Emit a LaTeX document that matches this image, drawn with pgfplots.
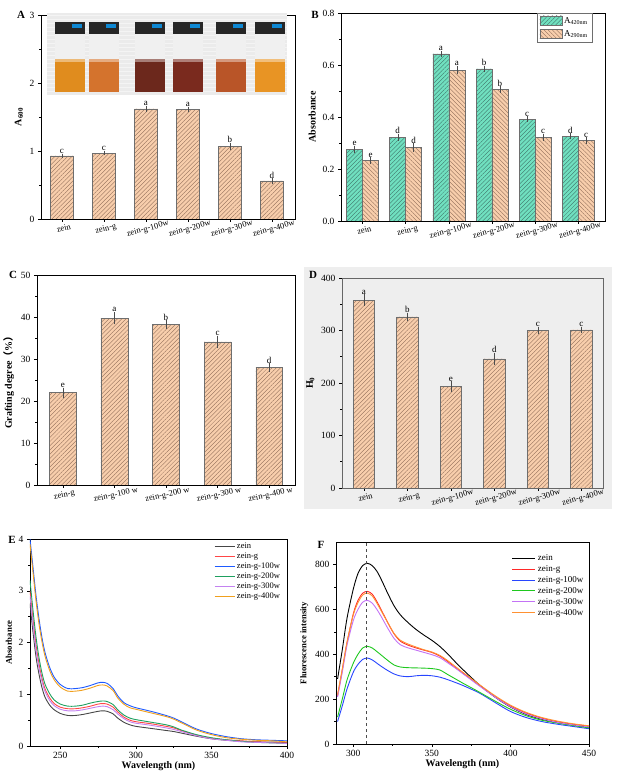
\documentclass[border=0pt]{standalone}
\usepackage{pgfplots}
\pgfplotsset{compat=1.18}
\usepackage{pgfplotstable}
\usepackage{fontspec}
\setmainfont{Liberation Serif}
\newfontfamily\cjk{Noto Sans CJK SC}
\usetikzlibrary{patterns.meta}

\definecolor{peach}{RGB}{248,206,172}
\definecolor{mint}{RGB}{112,224,192}
\definecolor{barline}{RGB}{110,110,110}
\definecolor{hatchP}{RGB}{140,105,85}
\definecolor{hatchM}{RGB}{60,110,100}
\definecolor{panelgray}{RGB}{238,238,238}
\definecolor{liqA}{RGB}{224,140,30}
\definecolor{liqB}{RGB}{212,115,45}
\definecolor{liqC}{RGB}{108,40,28}
\definecolor{liqD}{RGB}{122,42,30}
\definecolor{liqE}{RGB}{185,85,40}
\definecolor{liqF}{RGB}{232,148,36}
\definecolor{cZein}{RGB}{70,70,70}
\definecolor{cG}{RGB}{255,70,70}
\definecolor{cB}{RGB}{30,90,255}
\definecolor{cGr}{RGB}{30,160,95}
\definecolor{cP}{RGB}{195,130,240}
\definecolor{cO}{RGB}{240,160,30}
\definecolor{fK}{RGB}{0,0,0}
\definecolor{fR}{RGB}{255,40,40}
\definecolor{fB}{RGB}{40,70,255}
\definecolor{fG}{RGB}{30,200,30}
\definecolor{fP}{RGB}{195,115,245}
\definecolor{fO}{RGB}{255,145,50}

\pgfplotsset{
  panel/.style={
    scale only axis, tick align=outside, tick pos=left,
    /pgf/number format/assume math mode=true,
    axis line style={line width=0.6pt},
    tick style={line width=0.5pt, black},
    major tick length=3pt, minor tick length=1.8pt,
    yticklabel style={font=\fontsize{9.5}{10}\selectfont},
    xticklabel style={font=\fontsize{9.5}{10}\selectfont},
    ylabel style={font=\bfseries\fontsize{10}{11}\selectfont},
    xlabel style={font=\bfseries\fontsize{10}{11}\selectfont},
  },
  cat/.style={xticklabel style={rotate=15, anchor=north, font=\fontsize{8.5}{9}\selectfont}},
  pbar/.style={ybar, bar width=#1, fill=peach, draw=barline, line width=0.5pt,
    postaction={pattern={Lines[angle=45,distance=3pt,line width=0.35pt]}, pattern color=hatchP}},
  errs/.style={draw=none, no marks, forget plot,
    error bars/y dir=both, error bars/y explicit,
    error bars/error bar style={line width=0.45pt, black!70},
    error bars/error mark options={mark size=1.6pt, line width=0.45pt, black!70}},
  lets/.style={only marks, mark=none, forget plot, nodes near coords, point meta=explicit symbolic,
    nodes near coords style={anchor=south, inner sep=1pt, yshift=0.5pt, font=\fontsize{9}{10}\selectfont}},
  spec/.style={smooth, line width=0.9pt, no marks},
  boxleg/.style={legend image code/.code={\draw[##1] (0pt,-4pt) rectangle (22pt,5pt);}},
  lineleg/.style={legend image code/.code={\draw[##1] (0pt,0pt) -- (#1,0pt);}},
}

\pgfplotstableread{
x y e t l
0 0.93 0.008 0.938 c
1 0.97 0.006 0.976 c
2 1.62 0.020 1.640 a
3 1.61 0.018 1.628 a
4 1.07 0.030 1.100 b
5 0.56 0.015 0.575 d
}\tabA

\pgfplotstableread{
x xs y e t l
0 -0.185 0.275 0.008 0.283 e
1 0.815 0.322 0.008 0.330 d
2 1.815 0.643 0.005 0.648 a
3 2.815 0.585 0.006 0.591 b
4 3.815 0.392 0.004 0.396 c
5 4.815 0.326 0.005 0.331 d
}\tabBa

\pgfplotstableread{
x xs y e t l
0 0.185 0.232 0.007 0.239 e
1 1.185 0.283 0.010 0.293 d
2 2.185 0.580 0.010 0.590 a
3 3.185 0.506 0.006 0.512 b
4 4.185 0.322 0.007 0.329 c
5 5.185 0.309 0.006 0.315 c
}\tabBb

\pgfplotstableread{
x y e t l
0 22.0 0.8 22.8 e
1 39.7 1.1 40.8 a
2 38.2 0.6 38.8 b
3 34.1 1.0 35.1 c
4 28.0 0.6 28.6 d
}\tabC

\pgfplotstableread{
x y e t l
0 358 8 366 a
1 326 4 330 b
2 193 7 200 e
3 246 8 254 d
4 300 4 304 c
5 301 3 304 c
}\tabD

\pgfplotstableread{
wl zein g g100 g200 g300 g400
230 2.75 3.00 4.00 3.20 2.90 3.90
232 2.20 2.45 3.45 2.62 2.35 3.35
234 1.72 1.95 2.90 2.10 1.85 2.80
236 1.38 1.58 2.45 1.70 1.50 2.35
238 1.12 1.30 2.08 1.40 1.24 2.00
240 0.94 1.10 1.80 1.19 1.05 1.73
243 0.79 0.93 1.52 1.01 0.88 1.46
246 0.70 0.82 1.33 0.89 0.78 1.28
250 0.63 0.75 1.19 0.81 0.71 1.14
255 0.59 0.72 1.11 0.77 0.68 1.06
260 0.59 0.72 1.11 0.77 0.68 1.06
265 0.61 0.74 1.13 0.79 0.70 1.08
270 0.64 0.77 1.17 0.83 0.73 1.12
275 0.67 0.81 1.22 0.86 0.76 1.17
278 0.68 0.82 1.23 0.87 0.77 1.18
281 0.67 0.81 1.21 0.86 0.76 1.16
285 0.62 0.75 1.11 0.80 0.70 1.07
288 0.54 0.66 0.97 0.70 0.62 0.93
292 0.46 0.56 0.84 0.60 0.53 0.81
296 0.41 0.50 0.78 0.54 0.47 0.74
300 0.38 0.47 0.74 0.51 0.44 0.71
310 0.34 0.43 0.67 0.46 0.40 0.64
320 0.30 0.38 0.59 0.41 0.35 0.57
325 0.28 0.35 0.54 0.37 0.32 0.52
330 0.25 0.30 0.47 0.31 0.28 0.45
340 0.19 0.21 0.33 0.22 0.20 0.31
350 0.14 0.15 0.24 0.16 0.14 0.22
360 0.11 0.12 0.18 0.12 0.11 0.16
370 0.09 0.10 0.14 0.09 0.08 0.13
380 0.08 0.08 0.12 0.07 0.07 0.11
390 0.075 0.07 0.11 0.06 0.06 0.10
400 0.07 0.06 0.10 0.05 0.05 0.08
}\tabE

\pgfplotstableread{
wl zein g g100 g200 g300 g400
290 290 215 100 120 210 220
293 420 330 170 200 320 335
296 560 450 245 285 440 455
300 690 580 320 360 550 575
303 760 640 355 400 600 630
306 795 672 377 428 632 664
309 805 680 383 435 640 672
312 795 668 375 428 628 660
315 770 635 360 412 600 628
318 730 595 345 395 565 590
322 670 540 327 372 515 540
326 615 490 312 352 470 492
330 575 458 303 343 442 462
335 540 440 300 340 428 445
340 510 428 304 339 418 432
345 485 418 306 338 408 420
350 462 408 304 336 398 410
355 435 392 298 330 385 395
360 402 368 287 310 362 372
365 365 340 274 290 338 345
370 330 315 260 270 312 318
380 265 262 228 232 260 266
390 210 212 186 192 210 216
400 165 170 145 155 166 173
410 132 138 118 126 134 141
420 110 115 100 106 112 118
430 95 99 88 93 96 102
440 84 88 78 82 85 90
450 75 80 68 72 76 81
}\tabF

\begin{document}
\begin{tikzpicture}
\path[use as bounding box] (0,0) rectangle (619pt,780pt);
\fill[panelgray] (304pt,271pt) rectangle (612pt,513pt);

% ---------------- A
\begin{axis}[panel, cat, at={(41pt,561pt)}, anchor=south west, width=254pt, height=204pt,
  xmin=-0.5, xmax=5.55, ymin=0, ymax=3, ytick={0,1,2,3}, minor y tick num=1,
  xtick={0,1,2,3,4,5},
  xticklabels={zein,zein-g,zein-g-100w,zein-g-200w,zein-g-300w,zein-g-400w},
  ylabel={A\textsubscript{600}}]
\addplot[pbar=0.55] table[x=x,y=y] {\tabA};
\addplot[errs] table[x=x,y=y,y error=e] {\tabA};
\addplot[lets] table[x=x,y=t,meta=l] {\tabA};
\end{axis}
\begin{scope}[x=1pt,y=1pt]
\fill[gray!16] (47,685) rectangle (287,767);
\foreach \yy in {689,693,...,765} {\draw[white!70!gray!30, line width=0.6pt] (47,\yy) -- (287,\yy);}
\foreach \cx/\col in {70/liqA,104/liqB,150/liqC,188/liqD,231/liqE,270/liqF} {
  \fill[white!88!gray] ({\cx-15},688) rectangle ({\cx+15},747);
  \fill[\col] ({\cx-15},688) rectangle ({\cx+15},720);
  \fill[\col!60!white] ({\cx-15},718) rectangle ({\cx+15},721);
  \fill[black!85] ({\cx-15},746) rectangle ({\cx+15},758);
  \fill[cyan!70!blue] ({\cx+2},752) rectangle ({\cx+12},756);
}
\end{scope}

% ---------------- B
\begin{axis}[panel, cat, at={(341pt,559pt)}, anchor=south west, width=264pt, height=208pt,
  xmin=-0.5, xmax=5.62, ymin=0, ymax=0.8, ytick={0,0.2,0.4,0.6,0.8}, minor y tick num=1,
  yticklabel style={/pgf/number format/fixed, /pgf/number format/fixed zerofill, /pgf/number format/precision=1},
  xtick={0,1,2,3,4,5},
  xticklabels={zein,zein-g,zein-g-100w,zein-g-200w,zein-g-300w,zein-g-400w},
  ylabel={Absorbance},
  legend style={at={(0.951,1)}, anchor=north east, draw=barline, line width=0.5pt,
    font=\fontsize{9}{10}\selectfont, inner sep=2pt, row sep=2pt},
  legend cell align=left]
\addplot[ybar, bar width=0.37, bar shift=-0.185, fill=mint, draw=barline, line width=0.5pt,
  postaction={pattern={Lines[angle=45,distance=3pt,line width=0.35pt]}, pattern color=hatchM},
  boxleg]
  table[x=x,y=y] {\tabBa};
\addlegendentry{A\textsubscript{420nm}}
\addplot[ybar, bar width=0.37, bar shift=0.185, fill=peach, draw=barline, line width=0.5pt,
  postaction={pattern={Lines[angle=-45,distance=3pt,line width=0.35pt]}, pattern color=hatchP},
  boxleg]
  table[x=x,y=y] {\tabBb};
\addlegendentry{A\textsubscript{290nm}}
\addplot[errs] table[x=xs,y=y,y error=e] {\tabBa};
\addplot[errs] table[x=xs,y=y,y error=e] {\tabBb};
\addplot[lets] table[x=xs,y=t,meta=l] {\tabBa};
\addplot[lets] table[x=xs,y=t,meta=l] {\tabBb};
\end{axis}

% ---------------- C
\begin{axis}[panel, at={(37pt,295pt)}, anchor=south west, width=258pt, height=210pt,
  xticklabel style={rotate=12, anchor=north, font=\fontsize{8.5}{9}\selectfont},
  xmin=-0.5, xmax=4.5, ymin=0, ymax=50, ytick={0,10,20,30,40,50}, minor y tick num=1,
  xtick={0,1,2,3,4},
  xticklabels={zein-g,zein-g-100 w,zein-g-200 w,zein-g-300 w,zein-g-400 w},
  ylabel={Grafting degree{\cjk （}\%{\cjk ）}}]
\addplot[pbar=0.52] table[x=x,y=y] {\tabC};
\addplot[errs] table[x=x,y=y,y error=e] {\tabC};
\addplot[lets] table[x=x,y=t,meta=l] {\tabC};
\end{axis}

% ---------------- D
\begin{axis}[panel, cat, at={(342pt,292pt)}, anchor=south west, width=261pt, height=210pt,
  axis line style={line width=0.6pt, black!60},
  xmin=-0.5, xmax=5.5, ymin=0, ymax=400, ytick={0,100,200,300,400}, minor y tick num=1,
  xtick={0,1,2,3,4,5},
  xticklabels={zein,zein-g,zein-g-100w,zein-g-200w,zein-g-300w,zein-g-400w},
  ylabel={H\textsubscript{0}}]
\addplot[pbar=0.49] table[x=x,y=y] {\tabD};
\addplot[errs] table[x=x,y=y,y error=e] {\tabD};
\addplot[lets] table[x=x,y=t,meta=l] {\tabD};
\end{axis}

% ---------------- E
\begin{axis}[panel, at={(30pt,34pt)}, anchor=south west, width=257pt, height=207pt,
  xmin=230, xmax=400, ymin=0, ymax=4, xtick={250,300,350,400}, ytick={0,1,2,3,4},
  minor x tick num=1, minor y tick num=1,
  ylabel style={font=\bfseries\fontsize{8.7}{9}\selectfont},
  xlabel={Wavelength (nm)}, ylabel={Absorbance},
  xlabel style={yshift=4pt},
  legend style={at={(0.985,0.995)}, anchor=north east, draw=none, fill=none,
    font=\fontsize{8.5}{9}\selectfont, inner sep=1pt, row sep=-1.2pt},
  legend cell align=left, lineleg=20pt]
\addplot[spec, cZein] table[x=wl,y=zein] {\tabE}; \addlegendentry{zein}
\addplot[spec, cG] table[x=wl,y=g] {\tabE}; \addlegendentry{zein-g}
\addplot[spec, cB] table[x=wl,y=g100] {\tabE}; \addlegendentry{zein-g-100w}
\addplot[spec, cGr] table[x=wl,y=g200] {\tabE}; \addlegendentry{zein-g-200w}
\addplot[spec, cP] table[x=wl,y=g300] {\tabE}; \addlegendentry{zein-g-300w}
\addplot[spec, cO] table[x=wl,y=g400] {\tabE}; \addlegendentry{zein-g-400w}
\end{axis}

% ---------------- F
\begin{axis}[panel, at={(336pt,36pt)}, anchor=south west, width=253pt, height=202pt,
  xmin=289, xmax=450, ymin=0, ymax=900, xtick={300,350,400,450}, ytick={0,200,400,600,800},
  minor x tick num=1, minor y tick num=1,
  ylabel style={font=\bfseries\fontsize{8.7}{9}\selectfont},
  xlabel={Wavelength (nm)}, ylabel={Fluorescence intensity},
  xlabel style={yshift=4pt},
  legend style={at={(0.99,0.955)}, anchor=north east, draw=none, fill=none,
    font=\fontsize{9}{10}\selectfont, inner sep=1pt, row sep=-0.5pt},
  legend cell align=left, lineleg=23pt]
\addplot[spec, fK] table[x=wl,y=zein] {\tabF}; \addlegendentry{zein}
\addplot[spec, fR] table[x=wl,y=g] {\tabF}; \addlegendentry{zein-g}
\addplot[spec, fB] table[x=wl,y=g100] {\tabF}; \addlegendentry{zein-g-100w}
\addplot[spec, fG] table[x=wl,y=g200] {\tabF}; \addlegendentry{zein-g-200w}
\addplot[spec, fP] table[x=wl,y=g300] {\tabF}; \addlegendentry{zein-g-300w}
\addplot[spec, fO] table[x=wl,y=g400] {\tabF}; \addlegendentry{zein-g-400w}
\addplot[dashed, black!70, line width=0.7pt, forget plot] coordinates {(308,0) (308,900)};
\end{axis}

% panel letters
\begin{scope}[x=1pt,y=1pt, every node/.style={font=\bfseries\fontsize{11}{12}\selectfont, inner sep=0pt}]
\node at (21,765) {A};
\node at (315,765) {B};
\node at (13,505) {C};
\node at (313,505) {D};
\node at (12,240) {E};
\node at (321,235) {F};
\end{scope}
\end{tikzpicture}
\end{document}
